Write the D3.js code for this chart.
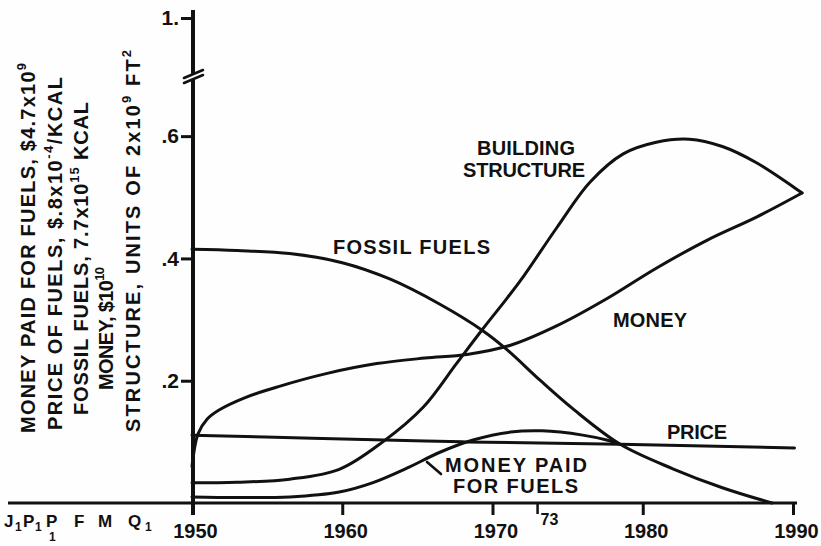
<!DOCTYPE html>
<html>
<head>
<meta charset="utf-8">
<script src="https://cdn.jsdelivr.net/npm/d3@7"></script>
<style>
  html, body { margin: 0; padding: 0; background: #fff; }
  svg { display: block; background: #fefefe; }
  text { font-family: "Liberation Sans", Arial, sans-serif; font-weight: bold; fill: #111; }
</style>
</head>
<body>
<svg id="chart" width="821" height="546"></svg>
<script>
// ---- simulated series, [year, value] ----
const fossilFuels = [
  [1950, 0.415], [1953, 0.413], [1956.5, 0.408], [1960, 0.393], [1963.2, 0.366],
  [1966.5, 0.325], [1969.4, 0.281], [1971, 0.250], [1973.2, 0.200], [1975.4, 0.153],
  [1978.5, 0.096], [1982, 0.056], [1985.3, 0.025], [1988.6, 0.0]
];
const buildingStructure = [
  [1950, 0.033], [1953, 0.034], [1956.5, 0.039], [1959.8, 0.055], [1962.7, 0.100],
  [1965.4, 0.157], [1967.6, 0.228], [1969.3, 0.283], [1971, 0.336], [1972.1, 0.372],
  [1974.3, 0.451], [1976.5, 0.525], [1978.7, 0.571], [1980.9, 0.590], [1983.1, 0.595],
  [1985.3, 0.583], [1987.6, 0.556], [1990.6, 0.507]
];
const money = [
  [1950, 0.06], [1950.4, 0.113], [1951, 0.137], [1951.8, 0.152], [1953.5, 0.172],
  [1955.7, 0.190], [1959, 0.212], [1962.3, 0.228], [1965.5, 0.237], [1968.3, 0.243],
  [1971.2, 0.258], [1974.3, 0.290], [1977.6, 0.334], [1980.9, 0.384], [1984.3, 0.430],
  [1987.6, 0.468], [1990.6, 0.507]
];
const price = [
  [1950, 0.111], [1958, 0.106], [1968, 0.100], [1978.5, 0.096], [1990.1, 0.090]
];
const moneyPaidForFuels = [
  [1950, 0.010], [1953, 0.009], [1956.5, 0.010], [1959.8, 0.018], [1962, 0.033],
  [1964.3, 0.057], [1966.5, 0.083], [1968.7, 0.103], [1971.2, 0.116], [1973.3, 0.118],
  [1976, 0.111], [1977.6, 0.103], [1978.5, 0.096]
];

// ---- axis ticks ----
const yTickValues = [0.2, 0.4, 0.6, 1.0];
const yTickLabels = [".2", ".4", ".6", "1."];
const xTickValues = [1950, 1960, 1970, 1980, 1990];
const markedYear = 1973;
const markedYearLabel = "73";
const inputSymbols = [["J", "1"], ["P", "1"], ["P", "1"], ["F", ""], ["M", ""], ["Q", "1"]];

// ---- vertical scale captions ----
const scaleCaptions = [
  [["MONEY PAID FOR FUELS, $4.7x10"], ["9", "sup"]],
  [["PRICE OF FUELS, $.8x10"], ["-4", "sup"], ["/KCAL"]],
  [["FOSSIL FUELS, 7.7x10"], ["15", "sup"], [" KCAL"]],
  [["MONEY, $10"], ["10", "sup"]],
  [["STRUCTURE, UNITS OF 2x10"], ["9", "sup"], [" FT"], ["2", "sup"]]
];

const svg = d3.select("#chart");
const ink = "#111";

const x = d3.scaleLinear().domain([1950, 1990]).range([192, 793]);
// broken scale: 0 – .7 linear, then compressed up to 1.
const y = d3.scaleLinear().domain([0, 0.7, 1.0]).range([503, 75, 18]);

// ---- axes ----
const yAxis = svg.append("g")
  .attr("transform", "translate(193,0)")
  .call(d3.axisLeft(y).tickValues(yTickValues)
    .tickFormat((d, i) => yTickLabels[i]).tickSize(12).tickPadding(2));
yAxis.select(".domain").remove();
yAxis.selectAll(".tick line").attr("stroke", ink).attr("stroke-width", 3);
yAxis.selectAll(".tick text").attr("font-size", 21).attr("fill", ink);

const xAxis = svg.append("g")
  .attr("transform", "translate(0,503)")
  .call(d3.axisBottom(x).tickValues(xTickValues).tickFormat(d3.format("d"))
    .tickSize(12).tickPadding(9));
xAxis.select(".domain").remove();
xAxis.selectAll(".tick line").attr("stroke", ink).attr("stroke-width", 3);
xAxis.selectAll(".tick text").attr("font-size", 20).attr("fill", ink)
  .attr("dx", 3);

// axis spines
svg.append("line").attr("x1", 193).attr("x2", 193)
  .attr("y1", y(1.0) - 8).attr("y2", y(0) + 12)
  .attr("stroke", ink).attr("stroke-width", 4);
svg.append("line").attr("x1", 8).attr("x2", x(1990) + 4)
  .attr("y1", y(0)).attr("y2", y(0))
  .attr("stroke", ink).attr("stroke-width", 3);

// scale break on the vertical axis
const yb = 77;
svg.append("path")
  .attr("d", `M184,${yb + 6} L203,${yb - 2} L203,${yb - 7} L184,${yb + 1} Z`)
  .attr("fill", "#fff");
[[yb + 6, yb - 2], [yb + 1, yb - 7]].forEach(([a, b]) => {
  svg.append("line").attr("x1", 184).attr("y1", a).attr("x2", 203).attr("y2", b)
    .attr("stroke", ink).attr("stroke-width", 2.6).attr("stroke-linecap", "round");
});

// marked year tick
svg.append("line").attr("x1", x(markedYear)).attr("x2", x(markedYear))
  .attr("y1", y(0)).attr("y2", y(0) + 11)
  .attr("stroke", ink).attr("stroke-width", 2.5);
svg.append("text").attr("x", x(markedYear) + 3).attr("y", y(0) + 22)
  .attr("font-size", 16).text(markedYearLabel);

// input symbols under the left end of the time axis
const symX = [4, 23, 46, 74, 98, 128];
const symSubX = [15, 35, 49, null, null, 145];
inputSymbols.forEach(([s, sub], i) => {
  svg.append("text").attr("x", symX[i]).attr("y", 527).attr("font-size", 17).text(s);
  if (sub) {
    const below = i === 2;
    svg.append("text").attr("x", symSubX[i]).attr("y", below ? 541 : 531)
      .attr("font-size", 12).text(sub);
  }
});

// ---- curves ----
const line = d3.line()
  .x(d => x(d[0])).y(d => y(d[1]))
  .curve(d3.curveCatmullRom.alpha(0.5));

[fossilFuels, buildingStructure, money, price, moneyPaidForFuels].forEach(series => {
  svg.append("path").datum(series)
    .attr("d", line)
    .attr("fill", "none")
    .attr("stroke", ink)
    .attr("stroke-width", 3)
    .attr("stroke-linecap", "round")
    .attr("stroke-linejoin", "round");
});

// ---- curve labels ----
function label(txt, px, py, width, anchor) {
  const t = svg.append("text").attr("x", px).attr("y", py)
    .attr("font-size", 20).attr("text-anchor", anchor || "start").text(txt);
  if (width) t.attr("textLength", width).attr("lengthAdjust", "spacing");
  return t;
}
label("FOSSIL FUELS", 333, 254, 157);
label("BUILDING", 477, 155, 98);
label("STRUCTURE", 463, 177, 122);
label("MONEY", 613, 327, 74);
label("PRICE", 667, 439, 60);
label("MONEY PAID", 445, 472, 142);
label("FOR FUELS", 453, 493, 125);
svg.append("line").attr("x1", 427).attr("y1", 462).attr("x2", 441).attr("y2", 474)
  .attr("stroke", ink).attr("stroke-width", 2.6).attr("stroke-linecap", "round");

// ---- rotated scale captions ----
const captionBase = [35, 62, 88, 113, 140];
const captionStart = [433, 430, 415, 390, 432];
const captionEnd = [63, 77, 102, 267, 50];
scaleCaptions.forEach((parts, i) => {
  const t = svg.append("text")
    .attr("transform", `translate(${captionBase[i]},${captionStart[i]}) rotate(-90)`)
    .attr("font-size", 20);
  let raised = false;
  parts.forEach(([s, kind]) => {
    const sp = t.append("tspan").text(s);
    if (kind === "sup") {
      sp.attr("font-size", 13).attr("dy", raised ? 0 : -9);
      raised = true;
    } else {
      sp.attr("dy", raised ? 9 : 0);
      raised = false;
    }
  });
  const target = captionStart[i] - captionEnd[i];
  const natural = t.node().getComputedTextLength();
  const n = t.text().length;
  if (n > 1) t.attr("letter-spacing", (target - natural) / (n - 1));
});
</script>
</body>
</html>
